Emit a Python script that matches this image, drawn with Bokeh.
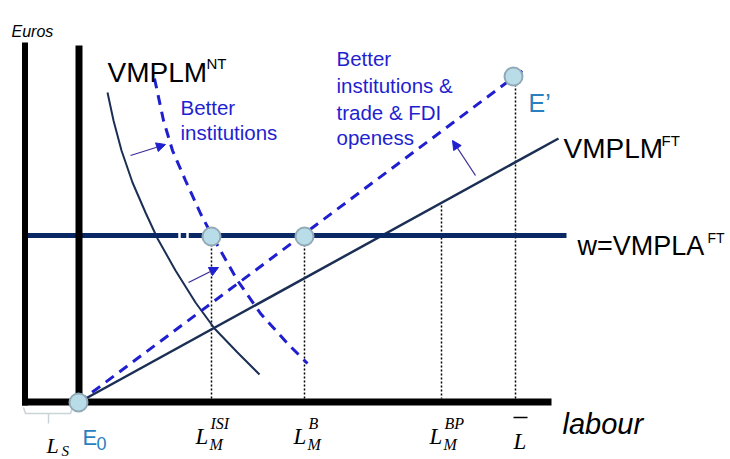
from bokeh.plotting import figure
from bokeh.models import Range1d, Arrow, NormalHead
from bokeh.core.properties import value
from bokeh.embed import file_html
from bokeh.resources import INLINE

# ---- diagram data (in reference pixel coordinates, y grows downward) ----
# VMPLM^NT demand curve (solid) and shifted one with better institutions (dashed)
nt_x = [107, 113, 121, 132, 145, 157, 175, 195, 214, 237, 259]
nt_y = [92, 120, 150, 182, 212, 238, 270, 302, 328, 352, 374]
ntb_x = [154, 163, 172, 185, 200, 212, 237, 260, 287, 307]
ntb_y = [78, 120, 150, 180, 213, 236, 280, 313, 343, 363]
# VMPLM^FT (solid) and after better institutions & openness (dashed)
ft_x = [78, 558]
ft_y = [402, 138]
ftb_x = [78, 525]
ftb_y = [402, 68]
# wage line w = VMPLA^FT
wage_y = 235
wage_x = [27, 566]
# labour points on the horizontal axis
L_isi, L_b, L_bp, L_bar = 211, 304, 441, 515
# equilibrium points
pts_x = [78, 211, 304, 513]
pts_y = [402, 236, 236, 76]

NAVY = "#0a2864"
CURVE = "#1b2f55"
BLUE = "#1f1fd0"
TEAL = "#2a7fc0"

p = figure(width=730, height=459, x_range=Range1d(0, 730), y_range=Range1d(459, 0),
           output_backend="svg", toolbar_location=None, min_border=0)
p.axis.visible = False
p.grid.visible = False
p.outline_line_color = None
p.background_fill_color = "white"

# dotted drop lines
p.segment(x0=[L_isi, L_b, L_bp, L_bar], y0=[236, 236, 205, 76],
          x1=[L_isi, L_b, L_bp, L_bar], y1=[398, 398, 398, 398],
          line_color="black", line_width=1.5, line_dash="2 2")

# curves
p.line(nt_x, nt_y, line_color=CURVE, line_width=2)
p.line(ntb_x, ntb_y, line_color=BLUE, line_width=3, line_dash="10 7")
p.line(ft_x, ft_y, line_color=CURVE, line_width=2.5)
p.line(ftb_x, ftb_y, line_color=BLUE, line_width=3, line_dash="10 7")

# wage line with small break marks
p.line(wage_x, [wage_y, wage_y], line_color=NAVY, line_width=5)
p.segment(x0=[179, 187], y0=[231, 231], x1=[179, 187], y1=[239, 239],
          line_color="white", line_width=2.5)

# axes
p.segment(x0=[24.5, 78.5, 21.5], y0=[42, 45, 401.5], x1=[24.5, 78.5, 551], y1=[405, 401.5, 401.5],
          line_color="black", line_width=[6, 7, 7], line_cap="butt")

# L_S bracket
p.line([23, 25, 70, 72], [407, 413, 413, 407], line_color="#c9d4d9", line_width=1.5)
p.segment(x0=[48], y0=[413], x1=[48], y1=[423], line_color="#c9d4d9", line_width=1.5)

# arrows
for (xs, ys, xe, ye) in [(130, 155, 165, 144), (188, 282, 218, 267), (475, 175, 452, 140)]:
    p.add_layout(Arrow(x_start=xs, y_start=ys, x_end=xe, y_end=ye, line_color="#3a2f96", line_width=1.3,
                       end=NormalHead(size=9, fill_color="#2020d0", line_color="#2020d0")))

# equilibrium circles
p.scatter(pts_x, pts_y, size=18, fill_color="#b9dde8", line_color="#91aab6", line_width=2)

SANS = "Liberation Sans"
SERIF = "Liberation Serif"

def txt(x, y, s, size, color="black", font=SANS, style="normal"):
    p.text(x=[x], y=[y], text=[s], text_font=value(font), text_font_size=f"{size}px",
           text_color=color, text_font_style=style, text_baseline="alphabetic", text_align="left")

txt(11, 31, "Euros", 16, style="italic")
txt(107, 72, "VMPLM", 28)
txt(206, 63, "NT", 15)
txt(180, 107, "Better", 20.5, BLUE)
txt(180, 132, "institutions", 20.5, BLUE)
txt(336, 58, "Better", 20.5, BLUE)
txt(336, 85, "institutions  &", 20.5, BLUE)
txt(336, 112, "trade & FDI", 20.5, BLUE)
txt(336, 137, "openess", 20.5, BLUE)
txt(528, 102, "E\u2019", 25, TEAL)
txt(563, 148, "VMPLM", 28)
txt(661, 140, "FT", 15)
txt(577, 245, "w=VMPLA", 27)
txt(707, 237, "FT", 14)
txt(562, 423, "labour", 29, style="italic")
txt(82, 437, "E", 22, TEAL)
txt(96, 443, "0", 18, TEAL)

# bottom labour labels
for (x, sup) in [(195, "ISI"), (293, "B"), (429, "BP")]:
    txt(x, 436, "L", 23, font=SERIF, style="italic")
    txt(x + 14, 444, "M", 16, font=SERIF, style="italic")
    txt(x + 15, 423, sup, 16, font=SERIF, style="italic")
txt(513, 441, "L", 23, font=SERIF, style="italic")
p.segment(x0=[513], y0=[417], x1=[527], y1=[417], line_color="black", line_width=1.5)
txt(46, 445, "L", 22, font=SERIF, style="italic")
txt(61, 450, "S", 15, font=SERIF, style="italic")

open("out.html", "w").write(file_html(p, INLINE))
